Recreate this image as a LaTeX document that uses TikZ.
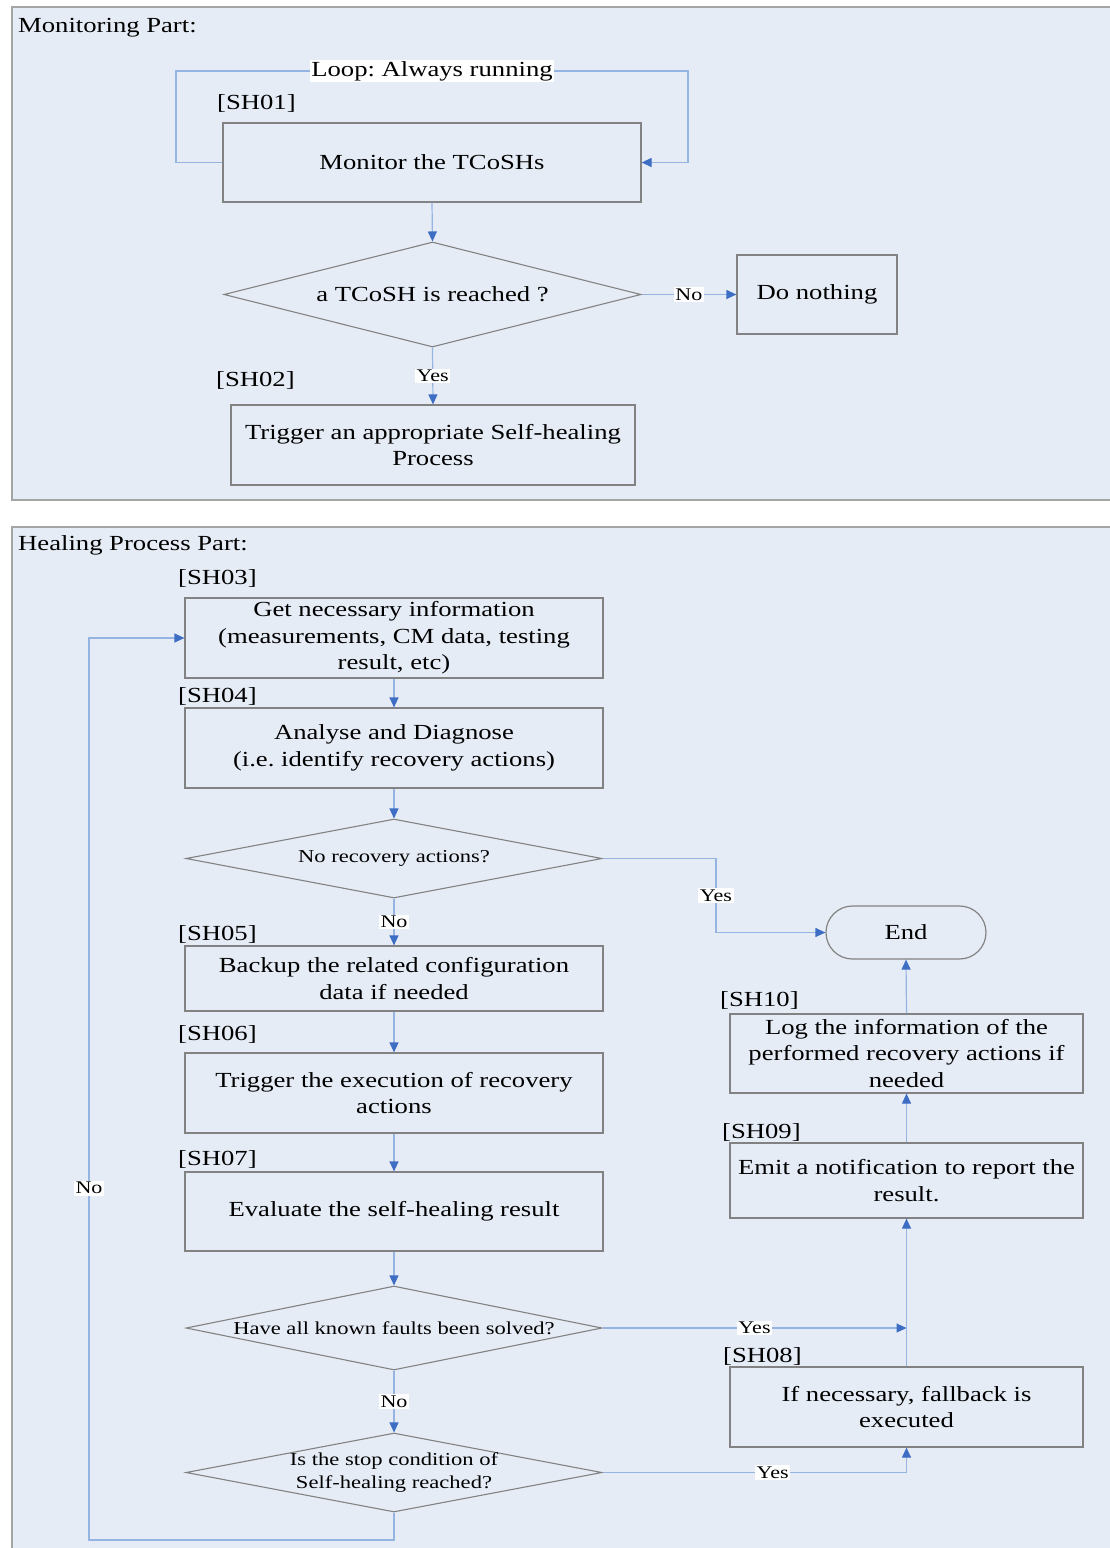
\documentclass[tikz,border=0pt]{standalone}
\usepackage{fontspec}
\setmainfont{Liberation Serif}[FakeStretch=1.24]
\usetikzlibrary{arrows.meta,shapes.geometric,shapes.misc}
\frenchspacing

\definecolor{panelfill}{RGB}{230,236,246}
\definecolor{panelline}{RGB}{165,165,165}
\definecolor{boxline}{RGB}{130,130,130}
\definecolor{linkblue}{RGB}{150,180,226}
\definecolor{tipblue}{RGB}{62,110,196}

\newcommand{\mainsize}{\fontsize{21.5}{26.5}\selectfont}
\newcommand{\decsize}{\fontsize{18.2}{23}\selectfont}
\newcommand{\lblsize}{\fontsize{17.8}{20}\selectfont}

\tikzset{
  panel/.style={fill=panelfill, draw=panelline, line width=1.5pt},
  stepbox/.style={draw=boxline, line width=1.2pt, rectangle, align=center,
    inner sep=0pt, font=\mainsize},
  decision/.style={draw=boxline, line width=1.1pt, diamond, aspect=4,
    inner sep=0pt},
  terminal/.style={draw=boxline, line width=1.2pt, rounded rectangle,
    inner sep=0pt, font=\mainsize},
  tag/.style={anchor=west, inner sep=0pt, font=\mainsize},
  heading/.style={anchor=west, inner sep=0pt, font=\mainsize},
  dectext/.style={align=center, font=\decsize, inner sep=0pt},
  link/.style={draw=linkblue, line width=1.2pt,
    -{Triangle[width=9pt,length=10pt,color=tipblue]}},
  lbl/.style={fill=white, inner sep=1.5pt, font=\lblsize},
  looplbl/.style={fill=white, inner sep=1.5pt, font=\mainsize},
}

\begin{document}
\begin{tikzpicture}[x=1pt, y=-1pt]
\useasboundingbox (0,0) rectangle (1109,1548);
\fill[white] (0,0) rectangle (1109,1548);

% ---------- the two panels ----------
\draw[panel] (12,7) rectangle (1125,500);
\draw[panel] (12,527) rectangle (1125,1570);

\node[heading] (hmon) at (18,28) {Monitoring Part:};
\node[heading] (hheal) at (18,545) {Healing Process Part:};

% ---------- monitoring part ----------
\node[stepbox, minimum width=418pt, minimum height=79pt] (s01) at (432,162.5) {Monitor the TCoSHs};
\node[tag] (t01) at (217,103) {[SH01]};

\node[decision, minimum width=417pt, minimum height=105pt] (d1) at (432.5,294.5) {};
\node[font=\mainsize, inner sep=0pt] (d1t) at (d1.center) {a TCoSH is reached ?};

\node[stepbox, minimum width=160pt, minimum height=79pt] (none) at (817,294.5) {Do nothing};

\node[stepbox, minimum width=404pt, minimum height=80pt] (s02) at (433,445) {Trigger an appropriate Self-healing\\Process};
\node[tag] (t02) at (216,380) {[SH02]};

% always-running loop around the monitoring step
\coordinate (loopL) at (176,71);
\coordinate (loopR) at (688,71);
\draw[link] (s01.west) -| (loopL) -- (loopR) |- (s01.east);
\node[looplbl] (looptxt) at (432,71) {Loop: Always running};

\draw[link] (s01.south) -- (d1.north);
\draw[link] (d1.east) -- node[lbl] {No} (none.west);
\draw[link] (d1.south) -- node[lbl] {Yes} (s02.north);

% ---------- healing process part ----------
\node[stepbox, minimum width=418pt, minimum height=80pt] (s03) at (394,638) {Get necessary information\\(measurements, CM data, testing\\result, etc)};
\node[tag] (t03) at (178,578) {[SH03]};

\node[stepbox, minimum width=418pt, minimum height=80pt] (s04) at (394,748) {Analyse and Diagnose\\(i.e. identify recovery actions)};
\node[tag] (t04) at (178,696) {[SH04]};

\node[decision, minimum width=416pt, minimum height=79pt] (d3) at (394,858.5) {};
\node[dectext] (d3t) at (d3.center) {No recovery actions?};

\node[stepbox, minimum width=418pt, minimum height=65pt] (s05) at (394,978.5) {Backup the related configuration\\data if needed};
\node[tag] (t05) at (178,934) {[SH05]};

\node[stepbox, minimum width=418pt, minimum height=80pt] (s06) at (394,1093) {Trigger the execution of recovery\\actions};
\node[tag] (t06) at (178,1034) {[SH06]};

\node[stepbox, minimum width=418pt, minimum height=79pt] (s07) at (394,1211.5) {Evaluate the self-healing result};
\node[tag] (t07) at (178,1159) {[SH07]};

\node[decision, minimum width=416pt, minimum height=84pt] (d4) at (394,1328) {};
\node[dectext] (d4t) at (d4.center) {Have all known faults been solved?};

\node[decision, minimum width=416pt, minimum height=79pt] (d5) at (394,1472.5) {};
\node[dectext] (d5t) at (d5.center) {Is the stop condition of\\Self-healing reached?};

\node[terminal, minimum width=160pt, minimum height=53pt] (endnode) at (906,932.5) {End};

\node[stepbox, minimum width=353pt, minimum height=79pt] (s10) at (906.5,1053.5) {Log the information of the\\performed recovery actions if\\needed};
\node[tag] (t10) at (720,1000) {[SH10]};

\node[stepbox, minimum width=353pt, minimum height=75pt] (s09) at (906.5,1180.5) {Emit a notification to report the\\result.};
\node[tag] (t09) at (722,1132) {[SH09]};

\node[stepbox, minimum width=353pt, minimum height=80pt] (s08) at (906.5,1407) {If necessary, fallback is\\executed};
\node[tag] (t08) at (723,1356) {[SH08]};

% main downward flow
\draw[link] (s03.south) -- (s04.north);
\draw[link] (s04.south) -- (d3.north);
\draw[link] (d3.south) -- node[lbl] {No} (s05.north);
\draw[link] (s05.south) -- (s06.north);
\draw[link] (s06.south) -- (s07.north);
\draw[link] (s07.south) -- (d4.north);
\draw[link] (d4.south) -- node[lbl] {No} (d5.north);

% nothing to recover: straight to the end
\coordinate (yesturn) at (716,858.5);
\draw[link] (d3.east) -- (yesturn) |- node[lbl, pos=0.25] {Yes} (endnode.west);

% right-hand column, upwards to the end
\draw[link] (s08.north) -- (s09.south);
\draw[link] (s09.north) -- (s10.south);
\draw[link] (s10.north) -- (endnode.south);
\coordinate (joinpt) at (906.5,1328);
\draw[link] (d4.east) -- node[lbl, pos=0.5] {Yes} (joinpt);
\draw[link] (d5.east) -| node[lbl, pos=0.28] {Yes} (s08.south);

% stop condition not reached: back to information gathering
\coordinate (backA) at (394,1540);
\coordinate (backB) at (89,1540);
\draw[link] (d5.south) -- (backA) -- (backB) |- node[lbl, pos=0.195] {No} (s03.west);

\end{tikzpicture}
\end{document}
